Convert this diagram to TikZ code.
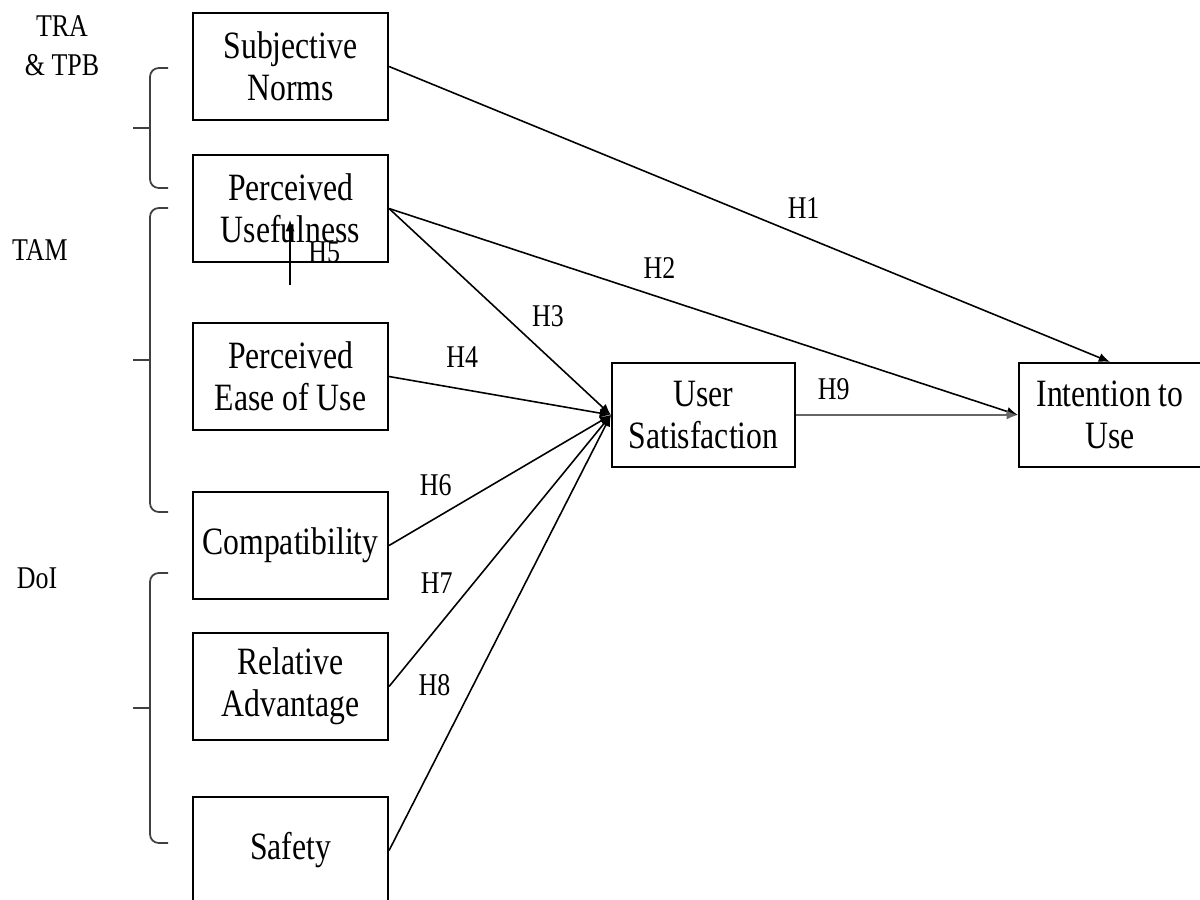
\documentclass[tikz,border=0pt]{standalone}
\usepackage{fontspec}
\setmainfont[FakeStretch=0.82]{Liberation Serif}
\usetikzlibrary{arrows.meta}

% left bracket grouping a theory's constructs
\newcommand{\theorybracket}[3]{%
    \draw[bracket] (1.68,#1) -- (1.5,#1) -- (1.5,#3) -- (1.68,#3);
    \draw[bracket] (1.5,#2) -- (1.33,#2);
}

\begin{document}
\begin{tikzpicture}[
    box/.style={draw, line width=0.6pt, minimum width=1.95cm, minimum height=1.07cm,
        align=center, inner sep=1pt, font=\fontsize{11}{12}\selectfont},
    lbl/.style={font=\fontsize{9}{11}\selectfont, inner sep=1pt, align=center},
    bracket/.style={draw=black!75, line width=0.5pt, rounded corners=2.5pt},
    arr/.style={-{Latex[length=3.2pt,width=2.6pt]}, line width=0.45pt}
]
    \clip (0,0) rectangle (12,-9);

    % Column 1 (constructs)
    \node[box] (sn) at (2.905, -0.665) {Subjective\\Norms};
    \node[box] (pu) at (2.905, -2.085) {Perceived\\Usefulness};
    \node[box] (peou) at (2.905, -3.765) {Perceived\\Ease of Use};
    \node[box] (comp) at (2.905, -5.455) {Compatibility};
    \node[box] (ra) at (2.905, -6.865) {Relative\\Advantage};
    \node[box] (safe) at (2.905, -8.505) {Safety};

    % Column 2 (mediator) and column 3 (outcome)
    \node[box, minimum width=1.83cm, minimum height=1.04cm] (us) at (7.035, -4.15) {User\\Satisfaction};
    \node[box, minimum width=1.82cm, minimum height=1.04cm] (itu) at (11.1, -4.15) {Intention to\\Use};

    % Theory labels
    \node[lbl] (tra) at (0.62, -0.46) {TRA\\\& TPB};
    \node[lbl] (tam) at (0.40, -2.50) {TAM};
    \node[lbl] (doi) at (0.37, -5.78) {DoI};

    % Brackets
    \theorybracket{-0.68}{-1.28}{-1.88}
    \theorybracket{-2.08}{-3.60}{-5.12}
    \theorybracket{-5.73}{-7.08}{-8.43}

    % Hypotheses
    \coordinate (h5start) at (2.9, -2.85);
    \draw[arr] (sn.east) -- (itu.north) node[lbl, pos=0.575, above=4pt] (h1) {H1};
    \draw[arr] (pu.east) -- (itu.west) node[lbl, pos=0.43, above=4pt] (h2) {H2};
    \draw[arr] (pu.east) -- (us.west) node[lbl, pos=0.61, above right=1pt] (h3) {H3};
    \draw[arr] (peou.east) -- (us.west) node[lbl, pos=0.33, above=5pt] (h4) {H4};
    \draw[arr] (h5start) -- (2.9, -2.2) node[lbl, pos=0.5, right=4pt] (h5) {H5};
    \draw[arr] (comp.east) -- (us.west) node[lbl, pos=0.21, above=5pt] (h6) {H6};
    \draw[arr] (ra.east) -- (us.west) node[lbl, pos=0.215, above=8.5pt] (h7) {H7};
    \draw[arr] (safe.east) -- (us.west) node[lbl, pos=0.205, above=17.5pt] (h8) {H8};
    \draw[arr, draw=black!60, line width=0.7pt] (us.east) -- (itu.west) node[lbl, pos=0.17, above=3pt, text=black] (h9) {H9};

\end{tikzpicture}
\end{document}
